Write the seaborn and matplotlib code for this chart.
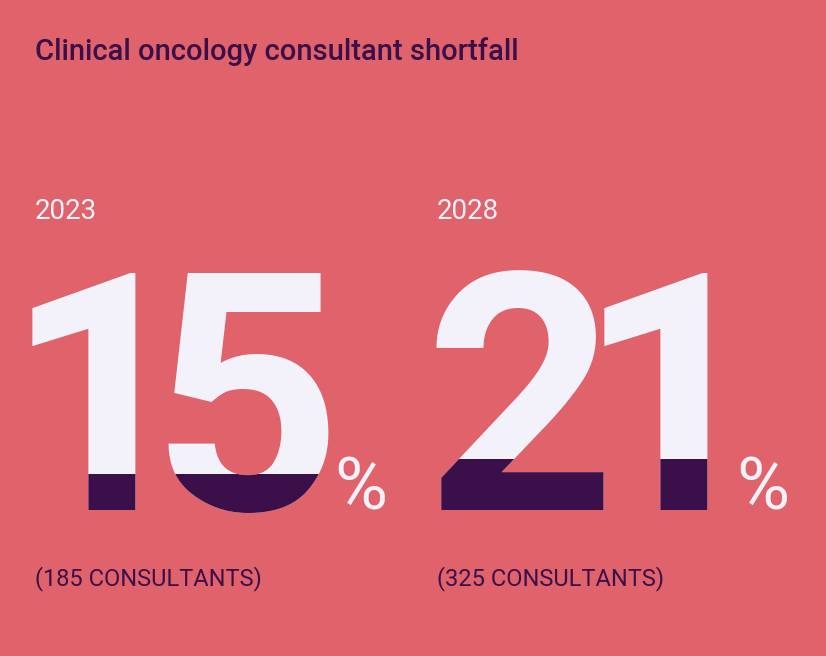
import matplotlib
matplotlib.use("Agg")
import matplotlib.pyplot as plt
from matplotlib.patches import Rectangle
import seaborn as sns

# data
title = "Clinical oncology consultant shortfall"
years = ["2023", "2028"]
shortfall_pct = [15, 21]
consultants = [185, 325]

BG = "#E0626A"
DARK = "#3A0F4A"
LIGHT = "#F3F2FA"

sns.set_theme(style="white")
plt.rcParams["font.family"] = ["Roboto", "DejaVu Sans"]

fig = plt.figure(figsize=(8.26, 6.56), dpi=100, facecolor=BG)
ax = fig.add_axes([0, 0, 1, 1])
ax.set_facecolor(BG)
ax.set_xlim(0, 826)
ax.set_ylim(656, 0)
ax.axis("off")

ax.text(35, 60, title, fontsize=21, color=DARK, fontweight="medium")

# column layout
col_x = [35, 437]
digit_centers = [[100, 246], [520, 672]]
pct_x = [334, 736]
baseline = 510
cap_top = 268

for i, (yr, pct, n) in enumerate(zip(years, shortfall_pct, consultants)):
    x0 = col_x[i]
    ax.text(x0, 219, yr, fontsize=20, color=LIGHT)
    fill_top = baseline - pct / 100 * (baseline - cap_top)
    for ch, cx in zip(str(pct), digit_centers[i]):
        ax.text(cx, baseline, ch, fontsize=240, fontweight="bold",
                color=LIGHT, ha="center", va="baseline")
        t = ax.text(cx, baseline, ch, fontsize=240, fontweight="bold",
                    color=DARK, ha="center", va="baseline")
        clip = Rectangle((0, fill_top), 826, 656 - fill_top, transform=ax.transData)
        t.set_clip_on(True)
        t.set_clip_path(clip)
    ax.text(pct_x[i], baseline, "%", fontsize=52, color=LIGHT, va="baseline")
    ax.text(x0, 585, f"({n} CONSULTANTS)", fontsize=17, color=DARK)

fig.savefig("out.png", dpi=100, facecolor=BG)
